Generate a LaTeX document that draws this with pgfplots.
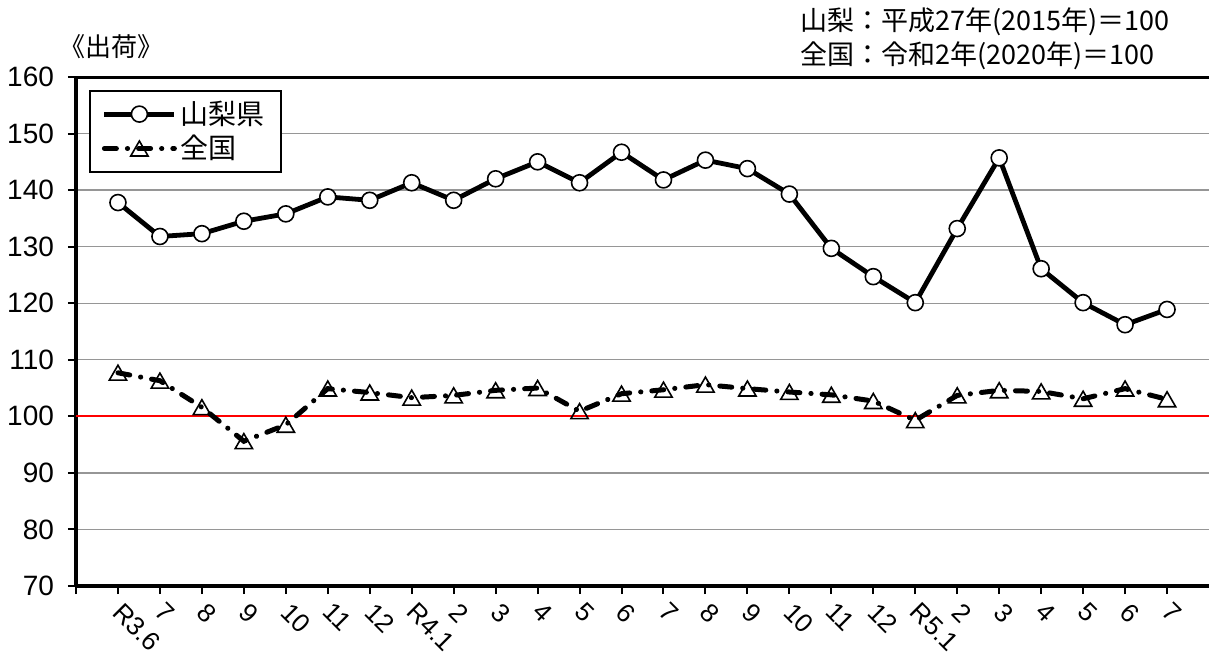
\documentclass[border=0pt]{standalone}
\usepackage{fontspec}
\setmainfont{Liberation Sans}
\newfontfamily\cjk{Noto Sans CJK JP}
\usepackage{pgfplots}
\pgfplotsset{compat=1.18}
\definecolor{gridgray}{RGB}{150,150,150}
\begin{document}
\begin{tikzpicture}
\useasboundingbox (-38pt,-36.5pt) rectangle (566.5pt,293pt);
\begin{axis}[
  at={(0,0)}, anchor=south west,
  scale only axis, width=566.5pt, height=254.5pt,
  xmin=-1, xmax=26, ymin=70, ymax=160,
  xtick={-1,0,...,25},
  xticklabels={{},R3.6,7,8,9,10,11,12,R4.1,2,3,4,5,6,7,8,9,10,11,12,R5.1,2,3,4,5,6,7},
  ytick={70,80,...,160},
  axis x line*=bottom, axis y line*=left,
  axis line style={line width=1.6pt,-},
  tick align=outside, major tick length=4pt,
  tick style={line width=1pt, black},
  ymajorgrids, grid style={line width=0.7pt, color=gridgray},
  /pgf/number format/assume math mode=true,
  yticklabel style={font=\fontsize{14}{16}\selectfont, xshift=-3.5pt},
  xticklabel style={font=\fontsize{13}{15}\selectfont, rotate=-45, anchor=north west, xshift=1.2pt, yshift=3.2pt},
  legend style={at={(axis description cs:0,1)}, anchor=north west, xshift=6.5pt, yshift=-6.5pt,
    draw=black, line width=0.9pt, font=\cjk\fontsize{14}{16}\selectfont,
    legend cell align=left, row sep=0pt, inner xsep=6pt, inner ysep=3pt},
  legend image code/.code={\draw[#1, mark repeat=2, mark phase=2] plot coordinates {(0pt,0pt) (17.5pt,0pt) (35pt,0pt)};},
  clip=false,
]
\addplot[red, line width=1pt, forget plot] coordinates {(-1,100) (26,100)};
\addplot[black, line width=2.4pt, mark=*, mark size=4pt, mark options={fill=white, draw=black, line width=0.8pt, solid}]
 coordinates {
 (0,137.8) (1,131.8) (2,132.3) (3,134.5) (4,135.8) (5,138.8) (6,138.2)
 (7,141.3) (8,138.2) (9,142.0) (10,145.0) (11,141.3) (12,146.7) (13,141.8)
 (14,145.3) (15,143.8) (16,139.3) (17,129.7) (18,124.7)
 (19,120.1) (20,133.2) (21,145.7) (22,126.1) (23,120.1) (24,116.2) (25,118.9)
 };
\addlegendentry{山梨県}
\addplot[black, line width=2.5pt, line cap=round, dash pattern=on 6pt off 5.5pt on 0.1pt off 5.5pt,
  mark=triangle, mark size=5pt, mark options={fill=white, draw=black, line width=0.8pt, solid, yshift=-1.2pt}]
 coordinates {
 (0,107.7) (1,106.3) (2,101.6) (3,95.6) (4,98.5) (5,104.9) (6,104.2)
 (7,103.3) (8,103.7) (9,104.6) (10,105.0) (11,100.9) (12,104.0) (13,104.7)
 (14,105.6) (15,104.9) (16,104.3) (17,103.8) (18,102.7)
 (19,99.3) (20,103.7) (21,104.6) (22,104.4) (23,103.1) (24,104.9) (25,103.0)
 };
\addlegendentry{全国}
\draw[line width=1.5pt] (rel axis cs:0,1) -- (rel axis cs:1,1);
\end{axis}
\node[font=\cjk\fontsize{13}{15}\selectfont] at (17.75pt,269.5pt) {《出荷》};
\node[font=\cjk\fontsize{13.5}{15}\selectfont, anchor=west, inner sep=0pt] at (362pt,282pt) {山梨：平成27年(2015年)＝100};
\node[font=\cjk\fontsize{13.5}{15}\selectfont, anchor=west, inner sep=0pt] at (362pt,265pt) {全国：令和2年(2020年)＝100};
\end{tikzpicture}
\end{document}
